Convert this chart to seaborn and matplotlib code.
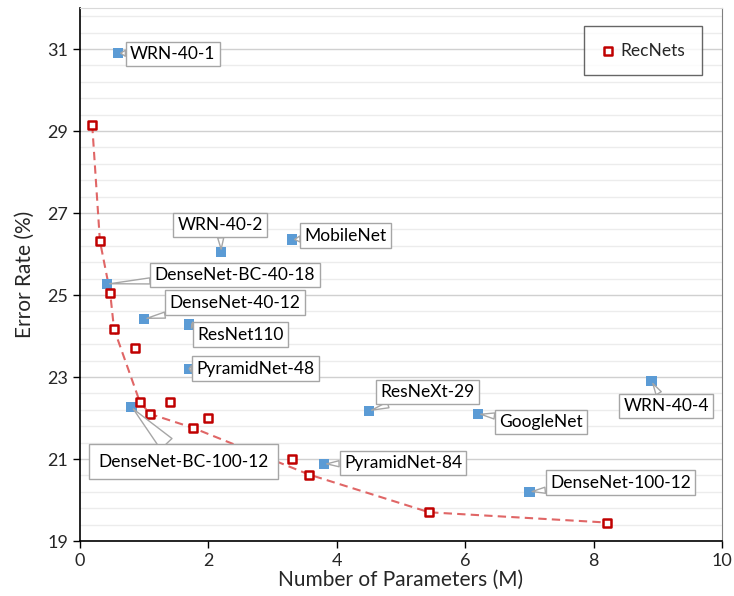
import numpy as np
import pandas as pd
import seaborn as sns
import matplotlib
matplotlib.use("Agg")
import matplotlib.pyplot as plt
from matplotlib.ticker import MultipleLocator

# ---------------- data ----------------
model_names = ["WRN-40-1", "WRN-40-2", "MobileNet", "DenseNet-BC-40-18",
               "DenseNet-40-12", "ResNet110", "PyramidNet-48",
               "DenseNet-BC-100-12", "ResNeXt-29", "GoogleNet", "WRN-40-4",
               "PyramidNet-84", "DenseNet-100-12"]
model_params = [0.59, 2.2, 3.3, 0.42, 1.0, 1.7, 1.7, 0.8, 4.5, 6.2, 8.9, 3.8, 7.0]
model_errors = [30.9, 26.05, 26.35, 25.27, 24.42, 24.28, 23.2, 22.27, 22.17,
                22.1, 22.9, 20.88, 20.2]

rec_params = [0.19, 0.31, 0.47, 0.53, 0.86, 0.93, 1.09, 1.40, 1.76, 1.99,
              3.30, 3.57, 5.44, 8.21]
rec_errors = [29.15, 26.32, 25.05, 24.17, 23.7, 22.4, 22.1, 22.4, 21.76,
              22.0, 21.0, 20.62, 19.7, 19.45]
rec_on_curve = [True, True, True, True, False, True, True, False, True,
                False, False, True, True, True]

x_ticks = [0, 2, 4, 6, 8, 10]
y_ticks = [19, 21, 23, 25, 27, 29, 31]

# ---------------- layout (label offsets in pixels) ----------------
label_offsets = {
    "WRN-40-1": (55, -1),
    "WRN-40-2": (-1, 27),
    "MobileNet": (54, 4),
    "DenseNet-BC-40-18": (128, 9),
    "DenseNet-40-12": (91, 16),
    "ResNet110": (51, -10),
    "PyramidNet-48": (66, 0),
    "DenseNet-BC-100-12": (52, -55),
    "ResNeXt-29": (59, 19),
    "GoogleNet": (63, -8),
    "WRN-40-4": (15, -25),
    "PyramidNet-84": (79, 1),
    "DenseNet-100-12": (91, 9),
}

sns.set_style("white")
plt.rcParams["font.family"] = ["Lato", "DejaVu Sans"]

df_models = pd.DataFrame({"name": model_names, "params": model_params,
                          "error": model_errors})
df_rec = pd.DataFrame({"params": rec_params, "error": rec_errors,
                       "on_curve": rec_on_curve})

fig = plt.figure(figsize=(7.34, 5.96), dpi=100)
ax = fig.add_axes([80 / 734, 1 - 541 / 596, 642 / 734, 533 / 596])

sns.lineplot(data=df_rec[df_rec["on_curve"]], x="params", y="error", ax=ax,
             color="#E06666", linestyle=(0, (4, 2.5)), linewidth=1.5,
             legend=False, zorder=2)
sns.scatterplot(data=df_models, x="params", y="error", ax=ax, marker="s",
                s=55, color="#5B9BD5", edgecolor="none", zorder=3,
                legend=False)
sns.scatterplot(data=df_rec, x="params", y="error", ax=ax, marker="s",
                s=30, color="white", edgecolor="#C00000", linewidth=1.8,
                zorder=4, label="RecNets")

for name, px, py in zip(model_names, model_params, model_errors):
    dx, dy = label_offsets[name]
    pad = 0.55 if name == "DenseNet-BC-100-12" else 0.25
    tw = 0.9 if name == "DenseNet-BC-100-12" else 0.35
    ax.annotate(name, xy=(px, py), xytext=(dx, dy), textcoords="offset pixels",
                ha="center", va="center", fontsize=12.5, color="black",
                bbox=dict(boxstyle=f"square,pad={pad}", fc="white",
                          ec="#a6a6a6", lw=1),
                arrowprops=dict(arrowstyle=f"wedge,tail_width={tw},shrink_factor=0.5",
                                fc="white", ec="#a6a6a6", lw=1,
                                shrinkA=0, shrinkB=2),
                zorder=5)

ax.set_xlim(0, 10)
ax.set_ylim(19, 32)
ax.set_xticks(x_ticks)
ax.set_yticks(y_ticks)
ax.yaxis.set_minor_locator(MultipleLocator(0.4, offset=0.2))
ax.grid(which="major", axis="y", color="#d0d0d0", lw=1)
ax.grid(which="minor", axis="y", color="#ececec", lw=1)
ax.grid(which="major", axis="x", visible=False)
ax.set_axisbelow(True)
ax.tick_params(axis="both", which="major", direction="out", length=5,
               width=1, color="black", labelsize=13, bottom=True, left=True)
ax.tick_params(which="minor", length=0, left=False, bottom=False)

for side in ["left", "bottom"]:
    ax.spines[side].set_color("black")
    ax.spines[side].set_linewidth(1.2)
ax.spines["top"].set_color("#d9d9d9")
ax.spines["right"].set_color("#7f7f7f")

ax.set_xlabel("Number of Parameters (M)", fontsize=15, labelpad=1)
ax.set_ylabel("Error Rate (%)", fontsize=15, labelpad=9)

leg = ax.legend(loc="upper right", bbox_to_anchor=(0.969, 0.966),
                fontsize=12.5, frameon=True, fancybox=False, borderpad=0.95,
                handletextpad=0.3, handlelength=0.9, borderaxespad=0,
                markerscale=1.0)
leg.get_frame().set_edgecolor("#404040")
leg.get_frame().set_linewidth(1)

fig.savefig("out.png", dpi=100)
